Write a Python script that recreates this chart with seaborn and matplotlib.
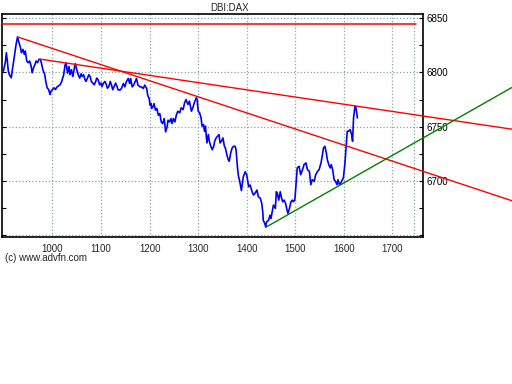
import matplotlib
matplotlib.use("Agg")
import matplotlib.pyplot as plt
import seaborn as sns
import numpy as np
from matplotlib.ticker import MultipleLocator

# price series (bar number, index level)
bar = [
    899, 903, 905, 907, 909, 911, 915, 918, 921, 925, 928, 931, 934, 936, 939, 942, 944, 947, 950, 953,
    956, 958, 961, 964, 966, 969, 972, 975, 977, 980, 984, 986, 989, 992, 995, 997, 1000, 1003, 1006, 1009,
    1012, 1016, 1019, 1023, 1026, 1028, 1031, 1034, 1036, 1039, 1042, 1045, 1047, 1050, 1053, 1056, 1059, 1061, 1064, 1067,
    1069, 1072, 1075, 1078, 1080, 1083, 1086, 1089, 1091, 1094, 1097, 1100, 1102, 1105, 1108, 1111, 1113, 1116, 1119, 1122,
    1124, 1127, 1130, 1133, 1135, 1139, 1142, 1146, 1149, 1152, 1156, 1159, 1161, 1164, 1167, 1170, 1173, 1176, 1180, 1183,
    1187, 1190, 1194, 1196, 1199, 1201, 1203, 1204, 1207, 1209, 1212, 1215, 1218, 1221, 1224, 1227, 1230, 1233, 1236, 1238,
    1241, 1244, 1246, 1249, 1252, 1255, 1258, 1262, 1265, 1269, 1272, 1275, 1279, 1282, 1286, 1289, 1292, 1296, 1298, 1300,
    1303, 1306, 1308, 1311, 1313, 1315, 1318, 1321, 1323, 1326, 1329, 1332, 1334, 1337, 1340, 1343, 1345, 1348, 1351, 1354,
    1356, 1359, 1362, 1364, 1367, 1370, 1373, 1376, 1378, 1381, 1383, 1385, 1389, 1393, 1397, 1400, 1404, 1407, 1411, 1414,
    1417, 1421, 1424, 1428, 1431, 1433, 1434, 1437, 1439, 1441, 1445, 1448, 1450, 1453, 1455, 1459, 1461, 1463, 1466, 1469,
    1472, 1474, 1477, 1480, 1483, 1485, 1488, 1491, 1494, 1496, 1499, 1501, 1504, 1508, 1511, 1515, 1518, 1522, 1525, 1529,
    1532, 1535, 1539, 1542, 1546, 1549, 1553, 1556, 1558, 1561, 1564, 1566, 1569, 1572, 1574, 1577, 1580, 1583, 1586, 1588,
    1591, 1594, 1597, 1599, 1602, 1605, 1607, 1610, 1613, 1616, 1618, 1620, 1623, 1625, 1628,
]
price = [
    6801.3, 6809.9, 6818.2, 6810.5, 6801.3, 6798.1, 6795.1, 6804.3, 6813.6, 6825.9, 6832.8, 6827.5, 6822.9, 6818.2, 6821.3, 6816.7, 6819.8, 6810.5, 6809.0, 6810.5,
    6805.9, 6799.7, 6804.3, 6807.4, 6810.5, 6809.0, 6812.0, 6812.0, 6809.0, 6802.8, 6798.1, 6792.0, 6785.8, 6784.2, 6779.6, 6782.8, 6784.2, 6785.8, 6784.2, 6786.5,
    6787.4, 6788.9, 6791.7, 6797.9, 6807.1, 6808.7, 6799.4, 6805.5, 6797.9, 6802.5, 6796.3, 6804.1, 6808.0, 6802.5, 6797.9, 6794.8, 6798.8, 6796.3, 6797.9, 6793.2,
    6791.7, 6794.8, 6797.9, 6795.7, 6791.7, 6790.2, 6788.6, 6791.7, 6794.8, 6793.2, 6788.6, 6790.2, 6787.0, 6790.2, 6791.7, 6788.6, 6785.5, 6787.0, 6791.7, 6787.7,
    6784.0, 6787.0, 6790.2, 6787.0, 6784.0, 6783.7, 6785.2, 6789.8, 6786.7, 6791.4, 6794.4, 6789.8, 6794.4, 6786.7, 6788.3, 6791.4, 6794.4, 6788.3, 6786.7, 6786.7,
    6785.2, 6788.3, 6785.2, 6779.1, 6775.9, 6769.8, 6771.3, 6766.7, 6768.2, 6771.3, 6765.2, 6766.7, 6760.5, 6762.0, 6754.3, 6752.8, 6757.4, 6745.1, 6749.7, 6755.9,
    6754.3, 6757.4, 6752.8, 6757.4, 6754.3, 6760.5, 6764.2, 6762.7, 6767.3, 6765.7, 6771.9, 6775.0, 6770.4, 6773.5, 6764.2, 6767.3, 6771.9, 6776.6, 6775.0, 6764.2,
    6762.7, 6758.0, 6750.4, 6751.8, 6745.7, 6750.4, 6734.9, 6742.6, 6736.5, 6731.8, 6728.7, 6731.8, 6736.5, 6739.5, 6741.1, 6742.6, 6734.9, 6736.5, 6739.5, 6731.8,
    6730.3, 6724.1, 6719.4, 6718.0, 6725.6, 6730.3, 6731.8, 6731.8, 6728.7, 6711.8, 6704.1, 6700.9, 6690.9, 6703.7, 6708.3, 6705.3, 6694.4, 6696.0, 6689.8, 6686.8,
    6688.3, 6691.4, 6685.2, 6683.7, 6679.0, 6671.3, 6663.6, 6660.6, 6657.6, 6662.0, 6663.6, 6668.2, 6665.2, 6672.9, 6677.5, 6674.4, 6689.8, 6688.3, 6682.1, 6689.8,
    6683.7, 6680.5, 6682.1, 6679.0, 6672.9, 6669.8, 6674.4, 6680.5, 6682.1, 6680.5, 6682.1, 6693.2, 6711.8, 6713.3, 6705.5, 6710.2, 6714.8, 6716.4, 6710.2, 6708.7,
    6696.3, 6700.9, 6699.4, 6705.5, 6708.7, 6710.2, 6716.4, 6724.1, 6730.3, 6731.8, 6725.6, 6719.4, 6714.8, 6711.8, 6714.8, 6710.2, 6700.9, 6699.4, 6696.3, 6700.9,
    6696.3, 6697.9, 6700.9, 6702.5, 6714.8, 6733.3, 6745.7, 6745.7, 6747.2, 6742.6, 6736.5, 6758.0, 6768.9, 6767.3, 6758.0,
]

# trend lines drawn on the chart: (x0, x1), (y0, y1)
upper_trend_x = [928, 1946]
upper_trend_y = [6832.8, 6681.5]
lower_trend_x = [973, 1946]
lower_trend_y = [6812.4, 6747.6]
support_x = [1439, 1946]
support_y = [6656.9, 6786.1]
resist_x = [896, 1748]
resist_y = [6845.1, 6845.1]

x_ticks = [1000, 1100, 1200, 1300, 1400, 1500, 1600, 1700]
y_ticks = [6700, 6750, 6800, 6850]
y_grid = [6650, 6700, 6750, 6800, 6850]
x_end_mark = 1745

sns.set_style("white")
plt.rcParams["font.family"] = ["Liberation Sans", "DejaVu Sans"]

fig = plt.figure(figsize=(5.12, 3.84), dpi=100)
ax = fig.add_axes([2 / 512, 1 - 237 / 384, 420.5 / 512, 223 / 384])

grid_kw = dict(color="#8aa3a3", linestyle=":", linewidth=0.9, zorder=0)
for gx in x_ticks + [x_end_mark]:
    ax.axvline(gx, **grid_kw)
for gy in y_grid:
    ax.axhline(gy, **grid_kw)

sns.lineplot(x=bar, y=price, ax=ax, color="#0000ff", linewidth=1.2, zorder=3)

ax.plot(resist_x, resist_y, color="#ff0000", linewidth=1.1, zorder=4)
for tx, ty, col in [(upper_trend_x, upper_trend_y, "#ff0000"),
                    (lower_trend_x, lower_trend_y, "#ff0000"),
                    (support_x, support_y, "#008000")]:
    ax.plot(tx, ty, color=col, linewidth=1.0, clip_on=False, zorder=4)

ax.set_xlim(896, 1762)
ax.set_ylim(6648, 6854)
ax.set_xticks(x_ticks)
ax.set_yticks(y_ticks)
ax.yaxis.set_minor_locator(MultipleLocator(25))
ax.yaxis.tick_right()
ax.tick_params(axis="y", which="both", direction="in", left=True, right=True,
               length=3, width=0.8, labelsize=7, pad=3, colors="black")
ax.tick_params(axis="x", length=0, labelsize=7, pad=5)
for s in ax.spines.values():
    s.set_color("black")
    s.set_linewidth(1.2)
ax.set_xlabel("")
ax.set_ylabel("")

fig.text(230 / 512, 1 - 8 / 384, "DBI:DAX", ha="center", va="center", fontsize=7)
fig.text(5 / 512, 1 - 258 / 384, "(c) www.advfn.com", ha="left", va="center", fontsize=7)

fig.savefig("out.png", dpi=100)
